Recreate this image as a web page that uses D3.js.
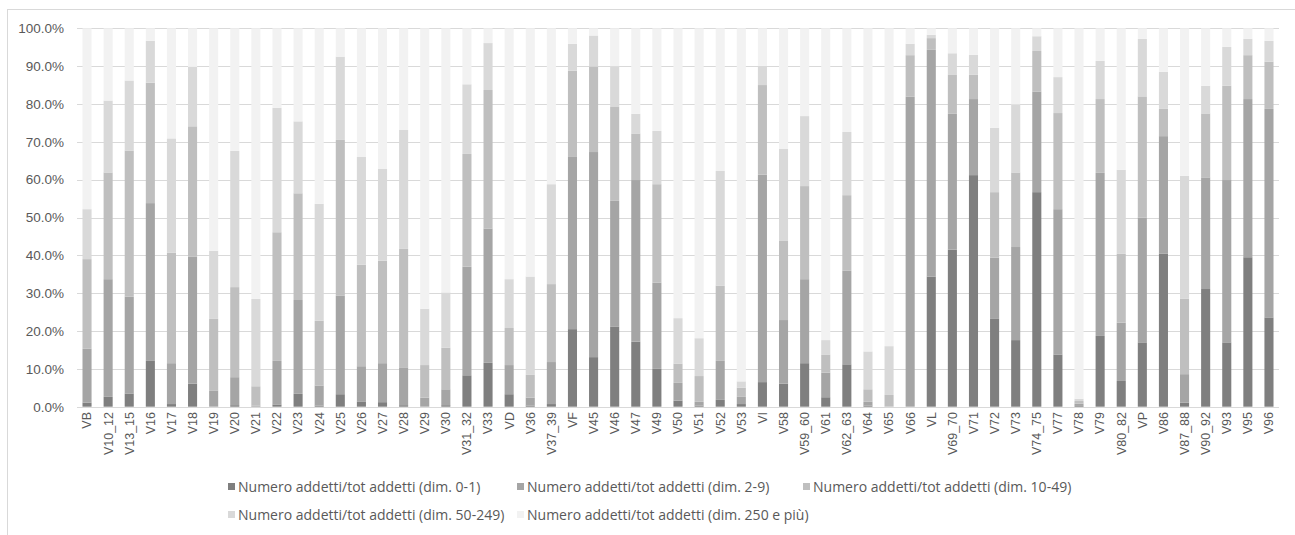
<!DOCTYPE html>
<html>
<head>
<meta charset="utf-8">
<script src="https://cdn.jsdelivr.net/npm/d3@7"></script>
<style>
  html, body { margin: 0; padding: 0; background: #fff; }
  svg { display: block; }
  text { font-family: "Liberation Sans", Arial, sans-serif; fill: #595959; }
</style>
</head>
<body>
<svg id="chart" width="1295" height="535"></svg>
<script>
const categories = ["VB","V10_12","V13_15","V16","V17","V18","V19","V20","V21","V22","V23","V24","V25","V26","V27","V28","V29","V30","V31_32","V33","VD","V36","V37_39","VF","V45","V46","V47","V49","V50","V51","V52","V53","VI","V58","V59_60","V61","V62_63","V64","V65","V66","VL","V69_70","V71","V72","V73","V74_75","V77","V78","V79","V80_82","VP","V86","V87_88","V90_92","V93","V95","V96"];

const dim0_1 = [1.1,2.6,3.5,12.1,0.7,6.1,0.1,0.4,0.1,0.6,3.4,0.3,3.3,1.4,1.2,0.4,0.1,0.4,8.3,11.6,3.3,0.3,0.7,20.5,13.1,21.1,17.2,10.0,1.6,0.3,1.8,0.7,6.5,6.1,11.5,2.5,11.2,0.3,0.0,0.0,34.4,41.5,61.2,23.2,17.6,56.7,13.8,0.2,18.7,6.8,17.0,40.4,1.1,31.1,17.0,39.5,23.6];
const dim2_9 = [14.2,31.1,25.6,41.7,10.8,33.6,4.2,7.4,0.2,11.5,24.8,5.3,26.0,9.3,10.3,10.0,2.3,4.2,28.7,35.5,7.7,2.1,11.1,45.5,54.2,33.3,42.7,22.8,4.7,1.0,10.3,1.9,54.8,16.8,22.2,6.5,24.7,1.0,0.1,81.9,59.9,35.9,20.1,16.2,24.6,26.6,38.4,0.6,43.1,15.4,33.0,31.1,7.5,29.5,42.9,41.8,55.1];
const dim10_49 = [23.7,28.2,38.6,31.8,29.2,34.4,18.9,23.8,5.1,34.0,28.2,17.1,41.2,26.8,27.1,31.3,8.6,11.0,29.8,36.6,9.8,6.1,20.6,22.8,22.6,24.8,12.3,26.0,5.1,6.8,19.9,2.4,23.7,20.9,24.6,4.8,20.0,3.3,3.0,11.0,3.1,10.4,6.4,17.3,19.7,10.7,25.4,0.7,19.5,18.2,32.0,7.2,19.9,16.9,24.9,11.6,12.5];
const dim50_249 = [13.2,19.0,18.5,11.1,30.2,15.7,18.0,36.0,23.1,32.9,19.0,30.9,22.0,28.5,24.3,31.5,14.9,14.6,18.4,12.4,12.9,25.9,26.4,7.1,8.2,10.8,5.2,14.1,12.0,10.0,30.3,1.7,5.1,24.3,18.5,3.8,16.7,10.0,12.9,3.0,0.9,5.6,5.3,17.0,18.0,3.9,9.5,0.6,10.1,22.2,15.2,9.8,32.5,7.3,10.3,4.3,5.5];
const dim250 = [47.8,19.1,13.8,3.3,29.1,10.2,58.8,32.4,71.5,21.0,24.6,46.4,7.5,34.0,37.1,26.8,74.1,69.8,14.8,3.9,66.3,65.6,41.2,4.1,1.9,10.0,22.6,27.1,76.6,81.9,37.7,93.3,9.9,31.9,23.2,82.4,27.4,85.4,84.0,4.1,1.7,6.6,7.0,26.3,20.1,2.1,12.9,97.9,8.6,37.4,2.8,11.5,39.0,15.2,4.9,2.8,3.3];

const seriesNames = [
  "Numero addetti/tot addetti (dim. 0-1)",
  "Numero addetti/tot addetti (dim. 2-9)",
  "Numero addetti/tot addetti (dim. 10-49)",
  "Numero addetti/tot addetti (dim. 50-249)",
  "Numero addetti/tot addetti (dim. 250 e più)"
];
const yTicks = [0,10,20,30,40,50,60,70,80,90,100];

const colors = ["#7f7f7f","#a5a5a5","#bfbfbf","#d9d9d9","#f2f2f2"];
const seriesArrays = [dim0_1, dim2_9, dim10_49, dim50_249, dim250];

const rows = categories.map((c, i) => {
  const o = { cat: c };
  seriesNames.forEach((k, j) => { o[k] = seriesArrays[j][i]; });
  return o;
});

const svg = d3.select("#chart");

// outer frame
svg.append("rect")
  .attr("x", 7.5).attr("y", 9.5)
  .attr("width", 1300).attr("height", 600)
  .attr("fill", "none").attr("stroke", "#d9d9d9").attr("stroke-width", 1);

const x = d3.scaleBand().domain(categories).range([77, 1279])
  .paddingInner(0.57).paddingOuter(0.26);
const y = d3.scaleLinear().domain([0, 100]).range([406.7, 28.3]);

// gridlines
svg.append("g")
  .selectAll("line")
  .data(yTicks)
  .join("line")
  .attr("x1", 77).attr("x2", 1279)
  .attr("y1", d => Math.round(y(d)) + 0.5)
  .attr("y2", d => Math.round(y(d)) + 0.5)
  .attr("stroke", "#d9d9d9").attr("stroke-width", 1);

// y axis labels
const yAxis = d3.axisLeft(y).tickValues(yTicks)
  .tickFormat(d => d3.format(".1f")(d) + "%").tickSize(0).tickPadding(0);
const gy = svg.append("g").attr("transform", "translate(64,0)").call(yAxis);
gy.select(".domain").remove();
gy.selectAll("text").style("font-size", "13.5px").attr("fill", "#595959")
  .style("font-family", "'Liberation Sans', Arial, sans-serif");

// bars
const stack = d3.stack().keys(seriesNames);
const stacked = stack(rows);
svg.append("g")
  .selectAll("g")
  .data(stacked)
  .join("g")
  .attr("fill", (d, i) => colors[i])
  .selectAll("rect")
  .data(d => d)
  .join("rect")
  .attr("x", d => x(d.data.cat))
  .attr("width", x.bandwidth())
  .attr("y", d => y(d[1]))
  .attr("height", d => Math.max(0, y(d[0]) - y(d[1])));

// baseline
svg.append("line")
  .attr("x1", 77).attr("x2", 1279)
  .attr("y1", 407.5).attr("y2", 407.5)
  .attr("stroke", "#d9d9d9");

// x axis labels
const xAxis = d3.axisBottom(x).tickSize(0).tickPadding(0);
const gx = svg.append("g").attr("transform", "translate(0,412)").call(xAxis);
gx.select(".domain").remove();
gx.selectAll("text")
  .style("font-size", "12.5px")
  .style("font-family", "'Liberation Sans', Arial, sans-serif")
  .attr("fill", "#595959")
  .attr("text-anchor", "end")
  .attr("transform", "rotate(-90)")
  .attr("x", 0).attr("y", 0).attr("dx", 0).attr("dy", "0.35em");

// legend
const legendPos = [
  { x: 228, y: 487 }, { x: 517, y: 487 }, { x: 803, y: 487 },
  { x: 228, y: 515 }, { x: 517, y: 515 }
];
const lg = svg.append("g").selectAll("g")
  .data(seriesNames)
  .join("g")
  .attr("transform", (d, i) => `translate(${legendPos[i].x},${legendPos[i].y})`);
lg.append("rect").attr("x", 0).attr("y", -4).attr("width", 7).attr("height", 7)
  .attr("fill", (d, i) => colors[i]);
lg.append("text").attr("x", 10).attr("y", 0).attr("dy", "0.35em")
  .style("font-family", "'Open Sans', sans-serif")
  .style("font-size", "14px").attr("fill", "#595959").text(d => d);
</script>
</body>
</html>
